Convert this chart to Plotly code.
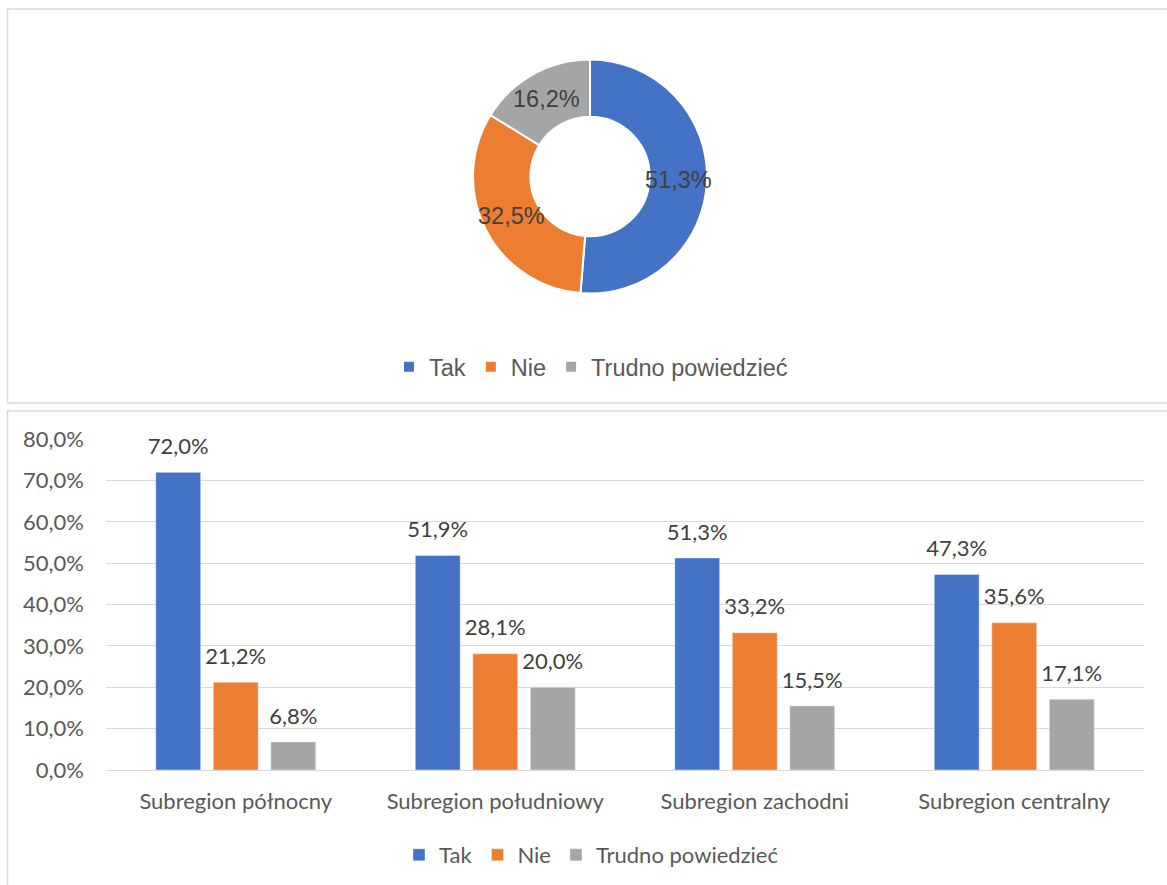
import math
import plotly.graph_objects as go

# --- data -------------------------------------------------------------
answers = ["Tak", "Nie", "Trudno powiedzieć"]
overall = [51.3, 32.5, 16.2]

subregions = ["Subregion północny", "Subregion południowy",
              "Subregion zachodni", "Subregion centralny"]
tak = [72.0, 51.9, 51.3, 47.3]
nie = [21.2, 28.1, 33.2, 35.6]
trudno = [6.8, 20.0, 15.5, 17.1]

y_ticks = [0, 10, 20, 30, 40, 50, 60, 70, 80]

# --- styling ------------------------------------------------------------
W, H = 1167, 885
COLORS = ["#4472C4", "#ED7D31", "#A5A5A5"]
PIE_FONT = "Liberation Sans, Arial, sans-serif"
BAR_FONT = "Lato, sans-serif"
LABEL_GREY = "#404040"
AXIS_GREY = "#595959"
GRID = "#D9D9D9"
BAR_FONT_SIZE = 22

def px_x(v):
    return v / W

def px_y(v):
    return 1 - v / H

def pct(v):
    return f"{v:.1f}".replace(".", ",") + "%"

fig = go.Figure()

# --- donut (overall) ---------------------------------------------------
cx, cy, R = 590, 176.5, 117
hole = 0.51
fig.add_trace(go.Pie(
    labels=answers, values=overall, hole=hole, sort=False,
    direction="clockwise", rotation=0,
    marker=dict(colors=COLORS, line=dict(color="white", width=2)),
    textinfo="none", hoverinfo="label+value",
    domain=dict(x=[px_x(cx - R), px_x(cx + R)], y=[px_y(cy + R), px_y(cy - R)]),
    legend="legend",
))

# slice labels placed at the middle of each ring segment
total = sum(overall)
r_mid = R * (1 + hole) / 2
cum = 0.0
annotations = []
for v in overall:
    theta = 2 * math.pi * (cum + v / 2) / total
    cum += v
    annotations.append(dict(
        x=px_x(cx), y=px_y(cy), xref="paper", yref="paper",
        xanchor="center", yanchor="middle",
        xshift=r_mid * math.sin(theta), yshift=r_mid * math.cos(theta),
        text=pct(v), showarrow=False,
        font=dict(family=PIE_FONT, size=23.5, color=LABEL_GREY),
    ))

# --- grouped bars (by subregion) ----------------------------------------
series = [tak, nie, trudno]
for name, vals, col in zip(answers, series, COLORS):
    fig.add_trace(go.Bar(
        x=subregions, y=vals, name=name, marker_color=col,
        xaxis="x", yaxis="y", legend="legend2",
    ))
for name, vals in zip(answers, series):
    fig.add_trace(go.Scatter(
        x=subregions, y=vals, mode="markers+text",
        marker=dict(size=19, opacity=0),
        text=[pct(v) for v in vals], textposition="top center",
        textfont=dict(family=BAR_FONT, size=BAR_FONT_SIZE, color=LABEL_GREY),
        cliponaxis=False, showlegend=False, hoverinfo="skip",
        xaxis="x", yaxis="y",
    ))

# panel frames
shapes = [
    dict(type="rect", xref="paper", yref="paper",
         x0=px_x(7.5), x1=px_x(1180), y0=px_y(403), y1=px_y(9),
         line=dict(color=GRID, width=1.5), layer="below"),
    dict(type="rect", xref="paper", yref="paper",
         x0=px_x(7.5), x1=px_x(1180), y0=px_y(900), y1=px_y(411),
         line=dict(color=GRID, width=1.5), layer="below"),
]

fig.update_layout(
    width=W, height=H,
    margin=dict(l=0, r=0, t=0, b=0, autoexpand=False),
    paper_bgcolor="white", plot_bgcolor="white",
    separators=", ",
    barmode="group", bargap=0.335, bargroupgap=0.22,
    scattermode="group", scattergap=0.335,
    shapes=shapes, annotations=annotations,
    xaxis=dict(
        domain=[px_x(106), px_x(1144)],
        showgrid=False, showline=False, ticks="",
        tickfont=dict(family=BAR_FONT, size=BAR_FONT_SIZE, color=AXIS_GREY),
        ticklabelstandoff=16,
    ),
    yaxis=dict(
        domain=[px_y(770), px_y(439.3)],
        range=[0, 80], tickvals=y_ticks,
        ticktext=[pct(t) for t in y_ticks],
        showgrid=True, gridcolor=GRID, gridwidth=1.3,
        zeroline=True, zerolinecolor=GRID, zerolinewidth=1.3,
        showline=False, ticks="",
        tickfont=dict(family=BAR_FONT, size=BAR_FONT_SIZE, color=AXIS_GREY),
        ticklabelstandoff=21,
    ),
    legend=dict(
        orientation="h", x=px_x(591), y=px_y(367),
        xanchor="center", yanchor="middle",
        font=dict(family=PIE_FONT, size=23.5, color=AXIS_GREY),
        itemclick=False, bgcolor="rgba(0,0,0,0)",
    ),
    legend2=dict(
        orientation="h", x=px_x(591), y=px_y(855),
        xanchor="center", yanchor="middle",
        font=dict(family=BAR_FONT, size=BAR_FONT_SIZE, color=AXIS_GREY),
        itemclick=False, bgcolor="rgba(0,0,0,0)",
    ),
    showlegend=True,
)

fig.write_html("out.html")
